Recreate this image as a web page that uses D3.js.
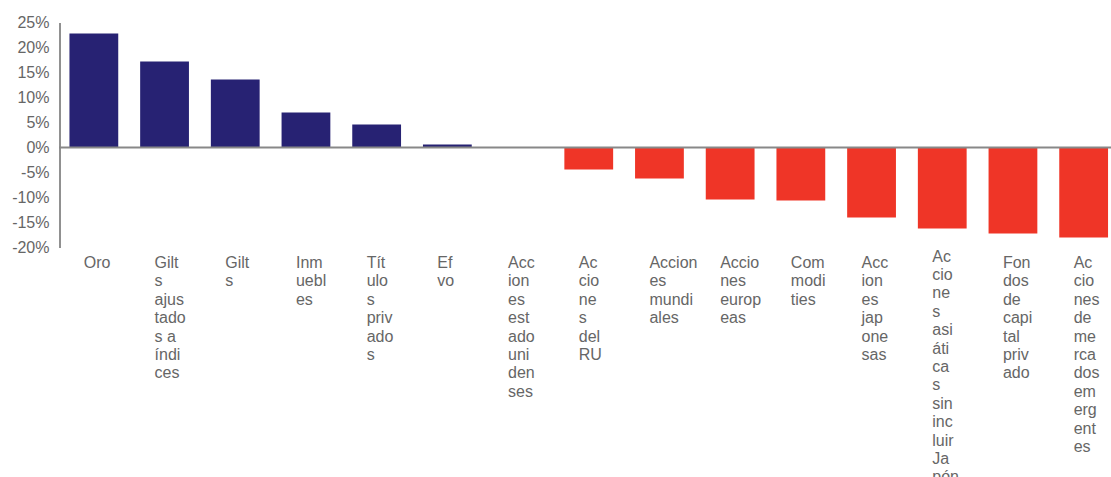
<!DOCTYPE html>
<html>
<head>
<meta charset="utf-8">
<script src="https://cdn.jsdelivr.net/npm/d3@7"></script>
<style>
    body { margin: 0; background: white; }
    text { font-family: "Liberation Sans", Arial, sans-serif; }
</style>
</head>
<body>
<script>
// categorias y rentabilidad (%)
const categories = [
    "Oro", "Gilts ajustados a índices", "Gilts", "Inmuebles", "Títulos privados", "Efectivo",
    "Acciones estadounidenses", "Acciones del RU", "Acciones mundiales", "Acciones europeas",
    "Commodities", "Acciones japonesas", "Acciones asiáticas sin incluir Japón",
    "Fondos de capital privado", "Acciones de mercados emergentes"
];
const values = [22.8, 17.2, 13.6, 7.0, 4.6, 0.6, 0, -4.4, -6.2, -10.4, -10.6, -14.0, -16.2, -17.2, -18.0];
// etiquetas tal como aparecen cortadas en el original
const labelLines = [
    ["Oro"],
    ["Gilt", "s", "ajus", "tado", "s a", "índi", "ces"],
    ["Gilt", "s"],
    ["Inm", "uebl", "es"],
    ["Tít", "ulo", "s", "priv", "ado", "s"],
    ["Ef", "vo"],
    ["Acc", "ion", "es", "est", "ado", "uni", "den", "ses"],
    ["Ac", "cio", "ne", "s", "del", "RU"],
    ["Accion", "es", "mundi", "ales"],
    ["Accio", "nes", "europ", "eas"],
    ["Com", "modi", "ties"],
    ["Acc", "ion", "es", "jap", "one", "sas"],
    ["Ac", "cio", "ne", "s", "asi", "áti", "ca", "s", "sin", "inc", "luir", "Ja", "pón"],
    ["Fon", "dos", "de", "capi", "tal", "priv", "ado"],
    ["Ac", "cio", "nes", "de", "me", "rca", "dos", "em", "erg", "ent", "es"]
];
const yTicks = [25, 20, 15, 10, 5, 0, -5, -10, -15, -20];

const width = 1111, height = 477;
const svg = d3.select("body").append("svg")
    .attr("width", width).attr("height", height)
    .style("display", "block");

const xScale = d3.scaleBand()
    .domain(categories)
    .range([58.5, 1119])
    .paddingInner(0.31)
    .paddingOuter(0.155);
const yScale = d3.scaleLinear()
    .domain([-20, 25])
    .range([247.5, 22.5]);

// barras
svg.selectAll("rect.bar")
    .data(values).join("rect")
    .attr("class", "bar")
    .attr("x", (d, i) => xScale(categories[i]))
    .attr("y", d => yScale(Math.max(0, d)))
    .attr("width", xScale.bandwidth())
    .attr("height", d => Math.abs(yScale(d) - yScale(0)))
    .attr("fill", d => d >= 0 ? "#272273" : "#EF3527");

// eje Y
const yAxis = d3.axisLeft(yScale)
    .tickValues(yTicks)
    .tickFormat(d => d + "%")
    .tickSize(0)
    .tickPadding(10);
const yAxisGroup = svg.append("g")
    .attr("transform", "translate(59.5, 0)")
    .call(yAxis);
yAxisGroup.select(".domain").attr("stroke", "#222").attr("stroke-width", 1);
yAxisGroup.selectAll(".tick text")
    .attr("font-size", "16px")
    .attr("fill", "#666")
    .attr("font-family", "Liberation Sans, Arial, sans-serif");

// linea del cero
svg.append("line")
    .attr("x1", 59).attr("x2", width)
    .attr("y1", yScale(0)).attr("y2", yScale(0))
    .attr("stroke", "#888").attr("stroke-width", 2);

// etiquetas de categoria
const lineH = 18.4;
const labels = svg.selectAll("text.cat")
    .data(labelLines).join("text")
    .attr("class", "cat")
    .attr("font-size", "16px")
    .attr("fill", "#666")
    .attr("x", (d, i) => xScale(categories[i]) + xScale.bandwidth() / 2 - 10)
    .attr("y", d => 268 + (d.length > 12 ? -6.5 : 0));
labels.selectAll("tspan")
    .data(d => d).join("tspan")
    .attr("x", function () { return d3.select(this.parentNode).attr("x"); })
    .attr("dy", (d, i) => i === 0 ? 0 : lineH)
    .text(d => d);
</script>
</body>
</html>
